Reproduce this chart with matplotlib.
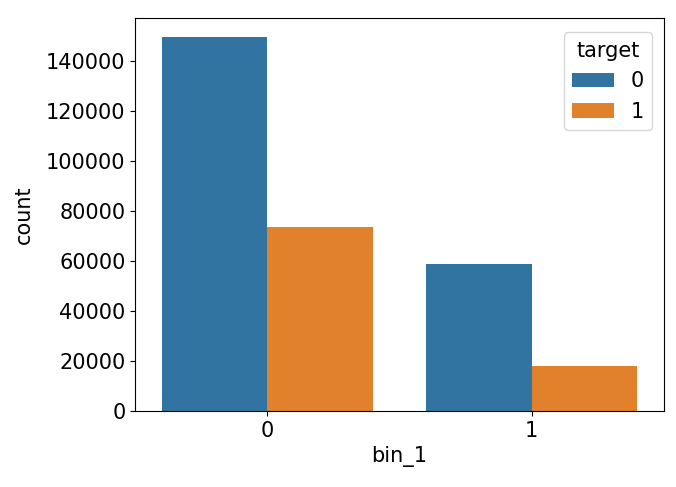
import matplotlib
matplotlib.use("Agg")
import matplotlib.pyplot as plt
import pandas as pd
import seaborn as sns

# counts per bin_1 / target
bin_1 = ["0", "0", "1", "1"]
target = ["0", "1", "0", "1"]
counts = [149700, 73700, 58900, 18000]

df = pd.DataFrame({"bin_1": bin_1, "target": target, "count": counts})

plt.rcParams["font.size"] = 15
fig = plt.figure(figsize=(6.76, 4.87), dpi=100)
ax = fig.add_axes([0.2, 0.156, 0.782, 0.807])
sns.barplot(data=df, x="bin_1", y="count", hue="target", ax=ax)
ax.set_xlabel("bin_1", fontsize=15)
ax.set_ylabel("count", fontsize=15, labelpad=9)
ax.tick_params(labelsize=15)
ax.legend(title="target", loc="upper right", fontsize=15, title_fontsize=15,
          bbox_to_anchor=(0.997, 0.99))

fig.savefig("out.png", dpi=100)
